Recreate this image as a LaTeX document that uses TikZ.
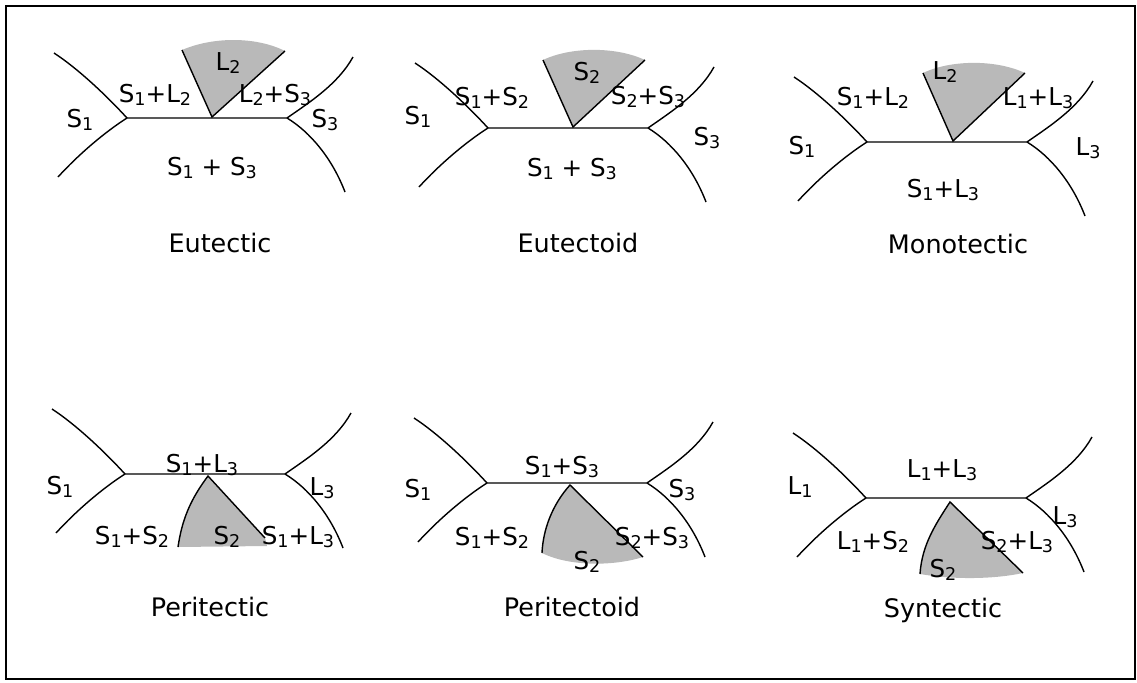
\documentclass[tikz,border=0pt]{standalone}
\usepackage{fontspec}
\setmainfont{DejaVu Sans}
\newcommand{\ix}[1]{\raisebox{-1.6pt}{\fontsize{10}{10}\selectfont #1}}
\tikzset{
  phaseline/.style={line width=0.8pt},
  wedge/.style={fill=gray!55},
  region/.style={font=\fontsize{14}{16}\selectfont, inner sep=1pt},
  reactname/.style={font=\fontsize{14.5}{17}\selectfont, inner sep=1pt},
}

\begin{document}
\begin{tikzpicture}[x=0.02cm, y=-0.02cm]
  \useasboundingbox (0,0) rectangle (1137,683);
  \draw[line width=1.2pt] (6,6) rectangle (1135,679);

  % shaded phase fields
  \fill[wedge] (212,117) -- (182,50) .. controls (212,37) and (255,36) .. (285,51) -- cycle;
  \fill[wedge] (573,127) -- (543,60) .. controls (570,47) and (615,46) .. (645,60) -- cycle;
  \fill[wedge] (953,141) -- (923,73) .. controls (950,60) and (995,59) .. (1025,73) -- cycle;
  \fill[wedge] (208,476) .. controls (190,500) and (182,520) .. (178,547) -- (267,546) -- (265,538) -- cycle;
  \fill[wedge] (570,485) .. controls (552,505) and (543,530) .. (542,553) .. controls (570,567) and (615,566) .. (643,557) -- cycle;
  \fill[wedge] (950,502) .. controls (935,525) and (922,545) .. (920,574) .. controls (955,580) and (995,579) .. (1023,573) -- cycle;

  \draw[phaseline] (182,50) -- (212,117) -- (285,51);
  \draw[phaseline] (543,60) -- (573,127) -- (645,60);
  \draw[phaseline] (923,73) -- (953,141) -- (1025,73);
  \draw[phaseline] (178,547) .. controls (182,520) and (190,500) .. (208,476) -- (265,538);
  \draw[phaseline] (542,553) .. controls (543,530) and (552,505) .. (570,485) -- (643,557);
  \draw[phaseline] (920,574) .. controls (922,545) and (935,525) .. (950,502) -- (1023,573);

  % phase boundaries, same shape in every panel
  \foreach \px/\py in {127/118, 488/128, 867/142, 125/474, 487/483, 866/498}{
    \begin{scope}[shift={(\px,\py)}]
      \coordinate (jl) at (0,0);
      \coordinate (jr) at (160,0);
      \draw[phaseline] (-73,-65) .. controls (-50,-50) and (-22,-24) .. (jl) -- (jr);
      \draw[phaseline] (jl) .. controls (-22,14) and (-48,36) .. (-69,59);
      \draw[phaseline] (jr) .. controls (183,-16) and (211,-34) .. (226,-61);
      \draw[phaseline] (jr) .. controls (183,14) and (205,40) .. (218,74);
    \end{scope}
  }

  % eutectic
  \node[region] (eu-l) at (228,63) {L\ix{2}};
  \node[region] (eu-sl) at (155,95) {S\ix{1}+L\ix{2}};
  \node[region] (eu-ls) at (275,95) {L\ix{2}+S\ix{3}};
  \node[region] (eu-s1) at (80,120) {S\ix{1}};
  \node[region] (eu-s3) at (325,120) {S\ix{3}};
  \node[region] (eu-ss) at (212,168) {S\ix{1} + S\ix{3}};
  \node[reactname] (eu) at (220,243) {Eutectic};

  % eutectoid
  \node[region] (ed-s) at (587,73) {S\ix{2}};
  \node[region] (ed-s12) at (492,98) {S\ix{1}+S\ix{2}};
  \node[region] (ed-s23) at (648,97) {S\ix{2}+S\ix{3}};
  \node[region] (ed-s1) at (418,117) {S\ix{1}};
  \node[region] (ed-s3) at (707,138) {S\ix{3}};
  \node[region] (ed-ss) at (572,169) {S\ix{1} + S\ix{3}};
  \node[reactname] (ed) at (578,243) {Eutectoid};

  % monotectic
  \node[region] (mo-l) at (945,72) {L\ix{2}};
  \node[region] (mo-sl) at (873,98) {S\ix{1}+L\ix{2}};
  \node[region] (mo-ll) at (1038,98) {L\ix{1}+L\ix{3}};
  \node[region] (mo-s1) at (802,147) {S\ix{1}};
  \node[region] (mo-l3) at (1088,148) {L\ix{3}};
  \node[region] (mo-sl3) at (943,190) {S\ix{1}+L\ix{3}};
  \node[reactname] (mo) at (958,244) {Monotectic};

  % peritectic
  \node[region] (pe-sl) at (202,465) {S\ix{1}+L\ix{3}};
  \node[region] (pe-s1) at (60,487) {S\ix{1}};
  \node[region] (pe-l3) at (322,488) {L\ix{3}};
  \node[region] (pe-ss) at (132,537) {S\ix{1}+S\ix{2}};
  \node[region] (pe-s2) at (227,537) {S\ix{2}};
  \node[region] (pe-sl2) at (298,537) {S\ix{1}+L\ix{3}};
  \node[reactname] (pe) at (210,607) {Peritectic};

  % peritectoid
  \node[region] (pd-ss) at (562,467) {S\ix{1}+S\ix{3}};
  \node[region] (pd-s1) at (418,490) {S\ix{1}};
  \node[region] (pd-s3) at (682,490) {S\ix{3}};
  \node[region] (pd-s12) at (492,538) {S\ix{1}+S\ix{2}};
  \node[region] (pd-s23) at (652,538) {S\ix{2}+S\ix{3}};
  \node[region] (pd-s2) at (587,562) {S\ix{2}};
  \node[reactname] (pd) at (572,607) {Peritectoid};

  % syntectic
  \node[region] (sy-ll) at (942,470) {L\ix{1}+L\ix{3}};
  \node[region] (sy-l1) at (800,487) {L\ix{1}};
  \node[region] (sy-l3) at (1065,517) {L\ix{3}};
  \node[region] (sy-ls) at (873,542) {L\ix{1}+S\ix{2}};
  \node[region] (sy-sl) at (1017,542) {S\ix{2}+L\ix{3}};
  \node[region] (sy-s2) at (943,570) {S\ix{2}};
  \node[reactname] (sy) at (943,610) {Syntectic};
\end{tikzpicture}
\end{document}
